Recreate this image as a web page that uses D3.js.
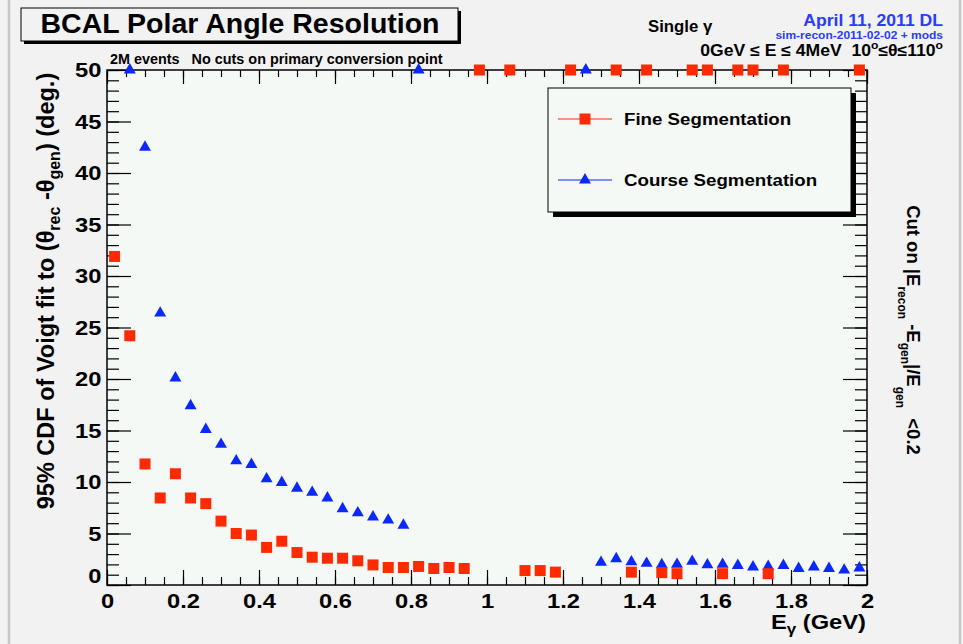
<!DOCTYPE html>
<html>
<head>
<meta charset="utf-8">
<script src="https://cdn.jsdelivr.net/npm/d3@7"></script>
<style>
  html, body { margin: 0; padding: 0; background: #f2f2f2; }
  svg { display: block; font-family: "Liberation Sans", Arial, Helvetica, sans-serif; font-weight: bold; }
</style>
</head>
<body>
<svg id="chart" width="963" height="644"></svg>
<script>
// Photon energy bin centres (GeV) and 95% CDF resolution values (deg.)
const fineE = [0.02, 0.06, 0.10, 0.14, 0.18, 0.22, 0.26, 0.30, 0.34, 0.38, 0.42, 0.46,
  0.50, 0.54, 0.58, 0.62, 0.66, 0.70, 0.74, 0.78, 0.82, 0.86, 0.90, 0.94,
  0.98, 1.06, 1.10, 1.14, 1.18, 1.22, 1.34, 1.38, 1.42, 1.46, 1.50, 1.54,
  1.58, 1.62, 1.66, 1.70, 1.74, 1.78, 1.98];
const fineRes = [31.9, 24.2, 11.75, 8.45, 10.8, 8.45, 7.9, 6.2, 5.0, 4.85, 3.65, 4.25,
  3.15, 2.7, 2.6, 2.6, 2.35, 1.95, 1.7, 1.7, 1.8, 1.6, 1.7, 1.6,
  50, 50, 1.4, 1.4, 1.25, 50, 50, 1.25, 50, 1.2, 1.1, 50,
  50, 1.1, 50, 50, 1.1, 50, 50];

const courseE = [0.06, 0.10, 0.14, 0.18, 0.22, 0.26, 0.30, 0.34, 0.38, 0.42, 0.46, 0.50,
  0.54, 0.58, 0.62, 0.66, 0.70, 0.74, 0.78, 0.82, 1.26, 1.30, 1.34, 1.38,
  1.42, 1.46, 1.50, 1.54, 1.58, 1.62, 1.66, 1.70, 1.74, 1.78, 1.82, 1.86,
  1.90, 1.94, 1.98];
const courseRes = [50, 42.5, 26.4, 20.1, 17.4, 15.1, 13.65, 12.05, 11.7, 10.3, 9.95, 9.4,
  9.0, 8.45, 7.4, 7.0, 6.6, 6.3, 5.8, 50, 50, 2.2, 2.55, 2.25,
  2.1, 1.97, 2.0, 2.3, 1.95, 2.0, 1.9, 1.75, 1.8, 1.9, 1.6, 1.75,
  1.6, 1.45, 1.65];

const xTicks = [0, 0.2, 0.4, 0.6, 0.8, 1, 1.2, 1.4, 1.6, 1.8, 2];
const xTickLabels = ["0", "0.2", "0.4", "0.6", "0.8", "1", "1.2", "1.4", "1.6", "1.8", "2"];
const yTicks = [0, 5, 10, 15, 20, 25, 30, 35, 40, 45, 50];
const yTickLabels = ["0", "5", "10", "15", "20", "25", "30", "35", "40", "45", "50"];

const seriesNames = ["Fine Segmentation", "Course Segmentation"];
const RED = "#ff2a00", BLUE = "#0a28ff";

const svg = d3.select("#chart");
const frame = { left: 107, right: 867, top: 70, bottom: 585 };
const x = d3.scaleLinear().domain([0, 2]).range([frame.left, frame.right]);
const y = d3.scaleLinear().domain([0, 50]).range([frame.bottom, frame.top]);
const SX = 1.13; // horizontal glyph widening used for the axis and legend lettering

// canvas background with window edges
svg.append("rect").attr("width", 963).attr("height", 644).attr("fill", "#f2f2f2");
svg.append("line").attr("x1", 9).attr("x2", 9).attr("y1", 0).attr("y2", 644).attr("stroke", "#c6c6c6").attr("stroke-width", 2.5);
svg.append("line").attr("x1", 960).attr("x2", 960).attr("y1", 0).attr("y2", 644).attr("stroke", "#c6c6c6").attr("stroke-width", 2.5);

// plot frame background
svg.append("rect")
  .attr("x", frame.left).attr("y", frame.top)
  .attr("width", frame.right - frame.left).attr("height", frame.bottom - frame.top)
  .attr("fill", "#f5f9f6");

// ticks: major via d3 axes, minor via unlabeled axes
const xMinor = d3.range(0, 2.0001, 0.05).map(v => +v.toFixed(2));
const yMinor = d3.range(0, 50.001, 1);

function styleAxis(g) {
  g.select(".domain").remove();
  g.selectAll("line").attr("stroke", "#000").attr("stroke-width", 1.2);
}
function styleLabels(g) {
  g.selectAll("text").attr("font-size", 21).attr("fill", "#000")
    .attr("font-family", "Liberation Sans, Arial, sans-serif").attr("font-weight", "bold")
    .attr("transform", `scale(${SX},1)`);
}

svg.append("g").attr("transform", `translate(0,${frame.bottom})`)
  .call(d3.axisBottom(x).tickValues(xMinor).tickSize(-8).tickFormat(""))
  .call(styleAxis);
svg.append("g").attr("transform", `translate(0,${frame.bottom})`)
  .call(d3.axisBottom(x).tickValues(xTicks).tickSize(-15).tickPadding(8)
    .tickFormat((d, i) => xTickLabels[i]))
  .call(styleAxis).call(styleLabels);

svg.append("g").attr("transform", `translate(0,${frame.top})`)
  .call(d3.axisTop(x).tickValues(xMinor).tickSize(-7).tickFormat(""))
  .call(styleAxis);
svg.append("g").attr("transform", `translate(0,${frame.top})`)
  .call(d3.axisTop(x).tickValues(xTicks).tickSize(-14).tickFormat(""))
  .call(styleAxis);

svg.append("g").attr("transform", `translate(${frame.left},0)`)
  .call(d3.axisLeft(y).tickValues(yMinor).tickSize(-12).tickFormat(""))
  .call(styleAxis);
svg.append("g").attr("transform", `translate(${frame.left},0)`)
  .call(d3.axisLeft(y).tickValues(yTicks).tickSize(-24).tickPadding(5)
    .tickFormat((d, i) => yTickLabels[i]))
  .call(styleAxis).call(styleLabels)
  .call(g => g.selectAll(".tick").filter(d => d === 0).select("text").attr("dy", "-0.1em"));

svg.append("g").attr("transform", `translate(${frame.right},0)`)
  .call(d3.axisRight(y).tickValues(yMinor).tickSize(-12).tickFormat(""))
  .call(styleAxis);
svg.append("g").attr("transform", `translate(${frame.right},0)`)
  .call(d3.axisRight(y).tickValues(yTicks).tickSize(-24).tickFormat(""))
  .call(styleAxis);

// frame border
svg.append("rect")
  .attr("x", frame.left).attr("y", frame.top)
  .attr("width", frame.right - frame.left).attr("height", frame.bottom - frame.top)
  .attr("fill", "none").attr("stroke", "#000").attr("stroke-width", 1.5);

// markers
const square = d3.symbol().type(d3.symbolSquare).size(121);
const triangle = d3.symbol().type(d3.symbolTriangle).size(62);

const fineData = fineE.map((e, i) => ({ e, v: fineRes[i] }));
const courseData = courseE.map((e, i) => ({ e, v: courseRes[i] }));

svg.append("g").selectAll("path").data(courseData).join("path")
  .attr("d", triangle)
  .attr("transform", d => `translate(${x(d.e)},${y(d.v)})`)
  .attr("fill", BLUE);

svg.append("g").selectAll("path").data(fineData).join("path")
  .attr("d", square)
  .attr("transform", d => `translate(${x(d.e)},${y(d.v)})`)
  .attr("fill", RED);

// helper: text placed at (px, py) and widened horizontally by sx
function label(px, py, size, sx) {
  return svg.append("text").attr("transform", `translate(${px},${py}) scale(${sx},1)`)
    .attr("font-size", size).attr("xml:space", "preserve");
}

// legend with drop shadow
const lg = { x: 548, y: 88, w: 303, h: 124 };
svg.append("rect").attr("x", lg.x + 5).attr("y", lg.y + 5).attr("width", lg.w).attr("height", lg.h).attr("fill", "#000");
svg.append("rect").attr("x", lg.x).attr("y", lg.y).attr("width", lg.w).attr("height", lg.h)
  .attr("fill", "#f5f9f6").attr("stroke", "#000").attr("stroke-width", 1);
const legendRows = [
  { name: seriesNames[0], color: RED, sym: square, cy: 119 },
  { name: seriesNames[1], color: BLUE, sym: triangle, cy: 180 }
];
legendRows.forEach(r => {
  svg.append("line").attr("x1", 558).attr("x2", 612).attr("y1", r.cy).attr("y2", r.cy)
    .attr("stroke", r.color).attr("stroke-width", 1);
  svg.append("path").attr("d", r.sym).attr("transform", `translate(585,${r.cy})`).attr("fill", r.color);
  label(624, r.cy + 6, 17, 1.1).text(r.name);
});

// title box with shadow
svg.append("rect").attr("x", 24).attr("y", 11).attr("width", 437).attr("height", 33).attr("fill", "#000");
svg.append("rect").attr("x", 21).attr("y", 8).attr("width", 437).attr("height", 33)
  .attr("fill", "#f2f2f2").attr("stroke", "#000").attr("stroke-width", 1);
svg.append("text").attr("x", 240).attr("y", 33).attr("text-anchor", "middle")
  .attr("font-size", 28.5).text("BCAL Polar Angle Resolution");

label(110, 64, 14.4, 1).text("2M events   No cuts on primary conversion point");

// header annotations
label(648, 32, 16, 1.05).text("Single γ");
label(943, 26, 16, 1.1).attr("text-anchor", "end").attr("fill", "#2a3cff").text("April 11, 2011 DL");
label(943, 38.5, 10, 1.2).attr("text-anchor", "end").attr("fill", "#2a3cff").text("sim-recon-2011-02-02 + mods");
const range = label(943, 56, 16, 1.1).attr("text-anchor", "end");
range.append("tspan").text("0GeV ≤ E ≤ 4MeV  10");
range.append("tspan").attr("font-size", 11).attr("dy", -7).text("o");
range.append("tspan").attr("dy", 7).text("≤θ≤110");
range.append("tspan").attr("font-size", 11).attr("dy", -7).text("o");

// y axis title
const yt = svg.append("text").attr("transform", "translate(54,291) rotate(-90)")
  .attr("text-anchor", "middle").attr("font-size", 23.5);
yt.append("tspan").text("95% CDF of Voigt fit to (θ");
yt.append("tspan").attr("font-size", 16).attr("dy", 6).text("rec");
yt.append("tspan").attr("dy", -6).text(" -θ");
yt.append("tspan").attr("font-size", 16).attr("dy", 6).text("gen");
yt.append("tspan").attr("dy", -6).text(") (deg.)");

// x axis title
const xt = label(866, 629, 21, SX).attr("text-anchor", "end");
xt.append("tspan").text("E");
xt.append("tspan").attr("font-size", 15).attr("dy", 5).text("γ");
xt.append("tspan").attr("dy", -5).text(" (GeV)");

// side cut annotation
const ct = svg.append("text").attr("transform", "translate(907,330) rotate(90)")
  .attr("text-anchor", "middle").attr("font-size", 18.5).attr("xml:space", "preserve");
ct.append("tspan").text("Cut on |E");
ct.append("tspan").attr("font-size", 12).attr("dy", 9).text("recon");
ct.append("tspan").attr("dy", -9).text(" -E");
ct.append("tspan").attr("font-size", 12).attr("dy", 6).text("gen");
ct.append("tspan").attr("dy", -6).text("|/E");
ct.append("tspan").attr("font-size", 12).attr("dy", 11).text("gen");
ct.append("tspan").attr("dy", -11).text("  <0.2");
</script>
</body>
</html>
